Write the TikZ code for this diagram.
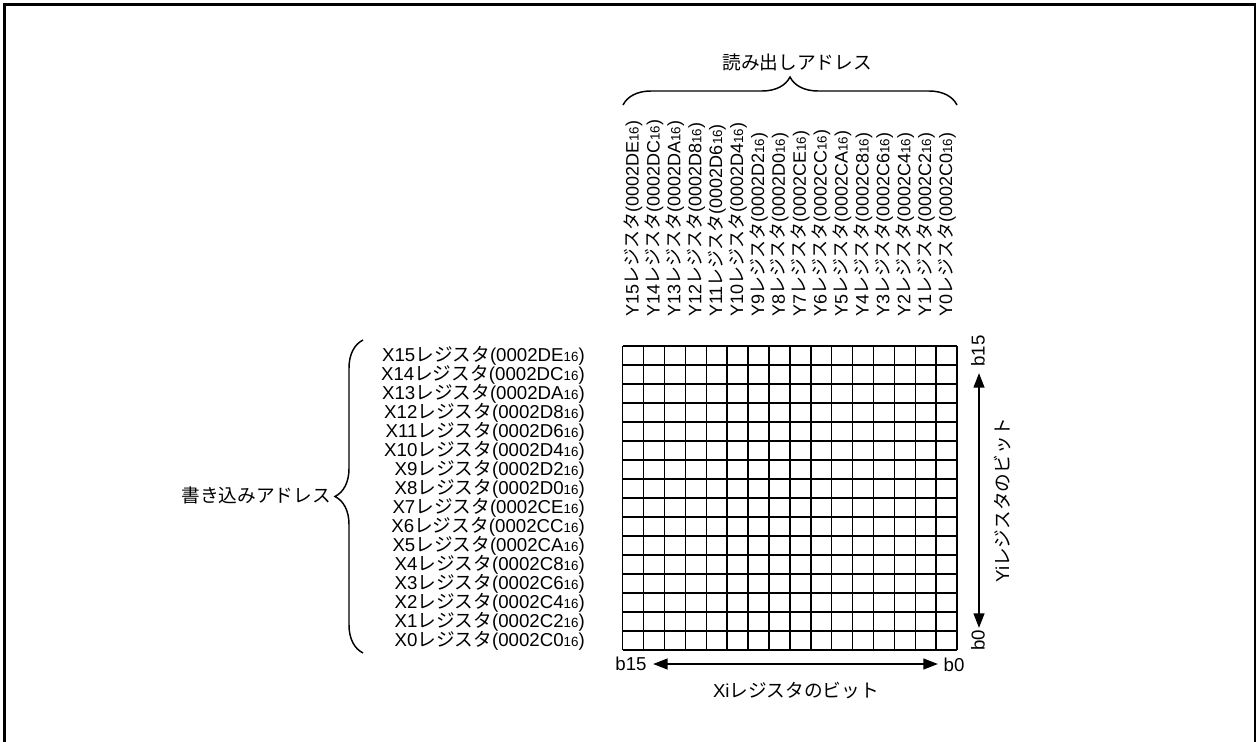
\documentclass[tikz,border=0pt]{standalone}
\usepackage{fontspec}
\setmainfont{Liberation Sans}
\newfontfamily\cjk{Noto Sans CJK JP}
\usetikzlibrary{decorations.pathreplacing,arrows.meta}
\newcommand{\J}[1]{{\cjk #1}}
\newcommand{\hexsub}[1]{{\fontsize{10}{10}\selectfont #1}}
\newcommand{\reglab}[3]{#1#2\J{レジスタ}(0002#3\hexsub{16})}
\begin{document}
\begin{tikzpicture}[x=0.75pt,y=-0.75pt,
  lab/.style={inner sep=0pt, font=\fontsize{14}{14}\selectfont},
  ylab/.style={inner sep=0pt, rotate=90, anchor=west, font=\fontsize{13.5}{13.5}\selectfont},
  gridline/.style={line width=1.1pt},
  bigbrace/.style={decorate, decoration={brace, amplitude=21pt}, line width=1.1pt},
  dblarrow/.style={line width=1.7pt, {Triangle[length=11pt,width=8pt]}-{Triangle[length=11pt,width=8pt]}},
  frame/.style={line width=2pt}]
\useasboundingbox (0,0) rectangle (1257,742);
% outer frame (open at the bottom)
\draw[frame] (4.5,745) -- (4.5,4.5) -- (1255,4.5) -- (1255,745);
% grid
\foreach \k in {0,...,16} {
  \draw[gridline] ({622.7+20.9*\k},346) -- ({622.7+20.9*\k},650);
  \draw[gridline] (622.7,{346+19*\k}) -- (957,{346+19*\k});
}
% row and column labels
\foreach \i/\h in {15/DE,14/DC,13/DA,12/D8,11/D6,10/D4,9/D2,8/D0,7/CE,6/CC,5/CA,4/C8,3/C6,2/C4,1/C2,0/C0} {
  \node[lab, anchor=east] (x\i) at (585,{346+19*(15.5-\i)}) {\reglab{X}{\i}{\h}};
  \node[ylab] (y\i) at ({622.7+20.9*(15.5-\i)},317) {\reglab{Y}{\i}{\h}};
}
% braces and their titles
\draw[bigbrace] (363,653) -- (363,340);
\node[lab, anchor=east] (write) at (331,495) {\J{書き込みアドレス}};
\draw[bigbrace] (623,105) -- (957,105);
\node[lab] (read) at (797,62) {\J{読み出しアドレス}};
% horizontal bit arrow
\node[lab] (hb15) at (631,664) {b15};
\node[lab] (hb0) at (954,665) {b0};
\coordinate (hl) at (653,664);
\coordinate (hr) at (938,664);
\draw[dblarrow] (hl) -- (hr);
\node[lab] (xbits) at (796,691) {Xi\J{レジスタのビット}};
% vertical bit arrow
\node[lab, rotate=90] (vb15) at (978,351) {b15};
\node[lab, rotate=90] (vb0) at (978,640) {b0};
\coordinate (vt) at (979,373);
\coordinate (vb) at (979,628);
\draw[dblarrow] (vt) -- (vb);
\node[lab, rotate=90] (ybits) at (1002,500) {Yi\J{レジスタのビット}};
\end{tikzpicture}
\end{document}
